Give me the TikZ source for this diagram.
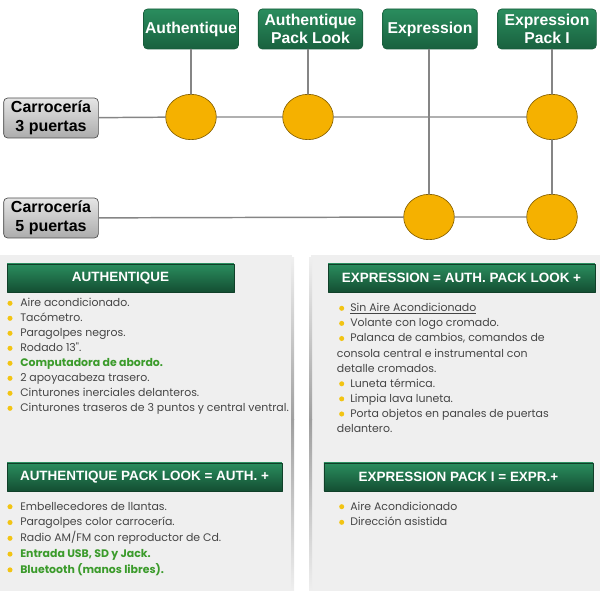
\documentclass[tikz,border=0pt]{standalone}
\usepackage{fontspec}
\setmainfont{Liberation Sans}
\newfontfamily\gothic{Poppins}
\usetikzlibrary{positioning,shapes.geometric}
\definecolor{clGreen}{HTML}{2A8D5E}
\definecolor{clGreenDk}{HTML}{175C3B}
\definecolor{clOrange}{HTML}{F5B100}
\definecolor{clLine}{HTML}{858585}
\definecolor{clPanel}{HTML}{EFEFEF}
\definecolor{clText}{HTML}{454545}
\definecolor{clLeaf}{HTML}{3B9B2B}
\definecolor{clBullet}{HTML}{F2C413}
\newcommand\hilite[1]{{\color{clLeaf}\bfseries #1}}
\tikzset{
 chart/.style={line cap=round,line join=round},
 trim/.style={rectangle,rounded corners=3pt,draw=clGreenDk,line width=.5pt,
   top color=clGreen,bottom color=clGreenDk!90!clGreen,text=white,
   font=\fontsize{11.8}{13.7}\selectfont\bfseries,align=center,
   minimum height=30pt,inner sep=1pt},
 body/.style={rectangle,rounded corners=3pt,draw=gray!60!black,line width=.5pt,
   top color=gray!20,bottom color=gray!65,text=black,
   font=\fontsize{12}{14.3}\selectfont\bfseries,align=center,
   minimum width=71pt,minimum height=30pt,inner sep=1pt},
 joint/.style={ellipse,draw=clOrange!55!black,fill=clOrange,line width=.5pt,
   minimum width=38pt,minimum height=34pt,inner sep=0pt},
 link/.style={draw=clLine,line width=1.1pt},
 header/.style={rectangle,draw=clGreenDk!70!black,line width=.4pt,
   top color=clGreen,bottom color=clGreenDk!85!black,text=white,
   font=\fontsize{10.1}{12}\selectfont\bfseries,minimum height=21pt,inner sep=0pt},
 item/.style={anchor=base west,inner sep=0pt,text=clText,
   font=\gothic\fontsize{8.2}{10}\selectfont},
 panel/.style={fill=clPanel},
 bullet/.style={fill=clBullet}
}
\begin{document}
\begin{tikzpicture}[chart,x=.75pt,y=-.75pt]
 \useasboundingbox (0,0) rectangle (600,591);
 % panels
 \fill[panel] (0,255) rectangle (292,591);
 \fill[panel] (311,255) rectangle (600,591);
 \shade[top color=clPanel,bottom color=gray!75] (291,258) rectangle (294,420);
 \shade[top color=gray!75,bottom color=clPanel] (291,420) rectangle (294,591);
 \shade[top color=clPanel,bottom color=gray!75] (309,258) rectangle (312,420);
 \shade[top color=gray!75,bottom color=clPanel] (309,420) rectangle (312,591);
 % versions and bodies
 \node[trim,minimum width=71.2pt] (auth) at (191,29) {Authentique};
 \node[trim,minimum width=78.4pt] (apl) at (310.5,29) {Authentique\\Pack Look};
 \node[trim,minimum width=70.9pt] (expr) at (430,29) {Expression};
 \node[trim,minimum width=74pt] (epi) at (547,29) {Expression\\Pack I};
 \node[body] (car3) at (51,118) {Carrocería\\3 puertas};
 \node[body] (car5) at (51,218) {Carrocería\\5 puertas};
 \node[joint] (j1) at (191,117) {};
 \node[joint] (j2) at (308,117) {};
 \node[joint] (j3) at (552,117) {};
 \node[joint] (j4) at (429,217) {};
 \node[joint] (j5) at (552,217) {};
 \draw[link] (auth) -- (j1);
 \draw[link] (apl.south -| j2) -- (j2);
 \draw[link] (expr.south -| j4) -- (j4);
 \draw[link] (epi.south -| j3) -- (j3) -- (j5);
 \draw[link] (car3) -- (j1) -- (j2) -- (j3);
 \draw[link] (car5) -- (j4) -- (j5);
 % headers
 \node[header,minimum width=170pt] (h1) at (120.5,278) {AUTHENTIQUE};
 \node[header,minimum width=200pt] (h2) at (461.5,278) {EXPRESSION = AUTH. PACK LOOK +};
 \node[header,minimum width=206pt] (h3) at (144.5,477) {AUTHENTIQUE PACK LOOK = AUTH. +};
 \node[header,minimum width=202pt] (h4) at (458.5,477) {EXPRESSION PACK I = EXPR.+};
 % lists
 \foreach \txt [count=\i from 0] in {Aire acondicionado., Tacómetro., Paragolpes negros.,
   Rodado 13"., \hilite{Computadora de abordo.}, 2 apoyacabeza trasero.,
   Cinturones inerciales delanteros., Cinturones traseros de 3 puntos y central ventral.}{
  \node[item] (ai\i) at (20,306.8+15*\i) {\txt};
  \fill[bullet] (10,303.3+15*\i) circle[radius=1.9pt];
 }
 \foreach \b/\txt [count=\i from 0] in {1/\underline{Sin Aire Acondicionado},
   1/Volante con logo cromado., 1/{Palanca de cambios, comandos de},
   0/consola central e instrumental con, 0/detalle cromados., 1/Luneta térmica.,
   1/Limpia lava luneta., 1/Porta objetos en panales de puertas, 0/delantero.}{
  \ifnum\b=1
   \node[item] (ei\i) at (350,311.8+15.1*\i) {\txt};
   \fill[bullet] (341.7,308.3+15.1*\i) circle[radius=1.9pt];
  \else
   \node[item] (ei\i) at (336.7,311.8+15.1*\i) {\txt};
  \fi
 }
 \foreach \txt [count=\i from 0] in {Embellecedores de llantas., Paragolpes color carrocería.,
   Radio AM/FM con reproductor de Cd., \hilite{{Entrada USB, SD y Jack.}},
   \hilite{Bluetooth (manos libres).}}{
  \node[item] (li\i) at (20,510.2+15.8*\i) {\txt};
  \fill[bullet] (10,506.7+15.8*\i) circle[radius=1.9pt];
 }
 \foreach \txt [count=\i from 0] in {Aire Acondicionado, Dirección asistida}{
  \node[item] (pi\i) at (350,510.2+15.6*\i) {\txt};
  \fill[bullet] (341.7,506.7+15.6*\i) circle[radius=1.9pt];
 }
\end{tikzpicture}
\end{document}
